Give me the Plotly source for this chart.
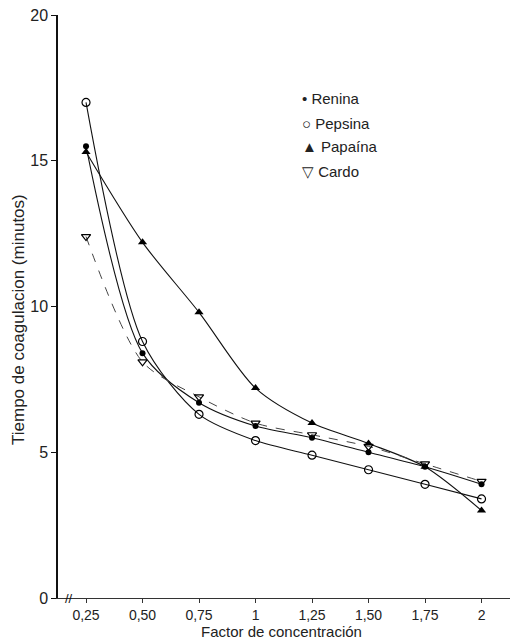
import plotly.graph_objects as go

factor = [0.25, 0.5, 0.75, 1.0, 1.25, 1.5, 1.75, 2.0]
tick_vals = [0.25, 0.5, 0.75, 1.0, 1.25, 1.5, 1.75, 2.0]
tick_text = ["0,25", "0,50", "0,75", "1", "1,25", "1,50", "1,75", "2"]
y_ticks = [0, 5, 10, 15, 20]

renina = [15.5, 8.4, 6.7, 5.9, 5.5, 5.0, 4.5, 3.9]
pepsina = [17.0, 8.8, 6.3, 5.4, 4.9, 4.4, 3.9, 3.4]
papaina = [15.3, 12.2, 9.8, 7.2, 6.0, 5.3, 4.5, 3.0]
cardo = [12.4, 8.1, 6.9, 6.0, 5.6, 5.2, 4.6, 4.0]

series = [
    ("Renina", renina, dict(symbol="circle", size=6, color="black"), dict(color="#111", width=1.1, dash="solid")),
    ("Pepsina", pepsina, dict(symbol="circle-open", size=8, color="black", line=dict(width=1.2)), dict(color="#111", width=1.1, dash="solid")),
    ("Papaína", papaina, dict(symbol="triangle-up", size=8, color="black"), dict(color="#111", width=1.1, dash="solid")),
    ("Cardo", cardo, dict(symbol="triangle-down-open", size=8, color="black", line=dict(width=1.2)), dict(color="#444", width=1.0, dash="dash")),
]

FONT = "Liberation Sans, Arial, sans-serif"
L, R, T, B = 58, 2, 15, 44
PW, PH = 512 - L - R, 642 - T - B

def px_x(x):
    return (x - L) / PW

def px_y(y):
    return 1 - (y - T) / PH

fig = go.Figure()
for name, vals, mk, ln in series:
    fig.add_trace(go.Scatter(
        x=factor, y=vals, name=name, mode="lines+markers",
        line=dict(shape="spline", smoothing=0.8, **ln),
        marker=mk, showlegend=False, cliponaxis=False,
    ))

legend_items = [("\u2022 Renina", 98), ("\u25cb Pepsina", 123), ("\u25b2 Papaína", 147), ("\u25bd Cardo", 171)]
annotations = []
for txt, ypx in legend_items:
    annotations.append(dict(
        text=txt, xref="paper", yref="paper",
        x=px_x(300), y=px_y(ypx),
        xanchor="left", yanchor="middle", showarrow=False,
        font=dict(family=FONT, size=15, color="#222"),
    ))

# axis break mark
annotations.append(dict(
    text="//", xref="paper", yref="paper",
    x=px_x(69), y=0, xanchor="center", yanchor="middle",
    showarrow=False, font=dict(family=FONT, size=13, color="#111"),
))
# y axis title
annotations.append(dict(
    text="Tiempo de coagulacion (minutos)", xref="paper", yref="paper",
    x=px_x(18), y=px_y(320), xanchor="center", yanchor="middle",
    textangle=-90, showarrow=False, font=dict(family=FONT, size=17, color="#222"),
))
# x axis title
annotations.append(dict(
    text="Factor de concentración", xref="paper", yref="paper",
    x=px_x(281), y=px_y(631), xanchor="center", yanchor="middle",
    showarrow=False, font=dict(family=FONT, size=15, color="#222"),
))

fig.update_layout(
    width=512, height=642,
    margin=dict(l=L, r=R, t=T, b=B, autoexpand=False),
    paper_bgcolor="white", plot_bgcolor="white",
    annotations=annotations,
    xaxis=dict(
        range=[0.126, 2.126], tickvals=tick_vals, ticktext=tick_text,
        showgrid=False, zeroline=False, showline=True, linecolor="#333", linewidth=1,
        ticks="outside", ticklen=4, tickcolor="#333", automargin=False,
        tickfont=dict(family=FONT, size=14, color="#222"),
    ),
    yaxis=dict(
        range=[0, 20], tickvals=y_ticks, ticktext=[str(v) for v in y_ticks],
        showgrid=False, zeroline=False, showline=True, linecolor="#111", linewidth=1.5,
        ticks="outside", ticklen=5, tickcolor="#111", automargin=False,
        tickfont=dict(family=FONT, size=16, color="#222"),
    ),
)

fig.write_html(
    "out.html",
    config={"displayModeBar": False},
    post_script="document.body.style.margin='0';document.body.style.overflow='hidden';",
)
